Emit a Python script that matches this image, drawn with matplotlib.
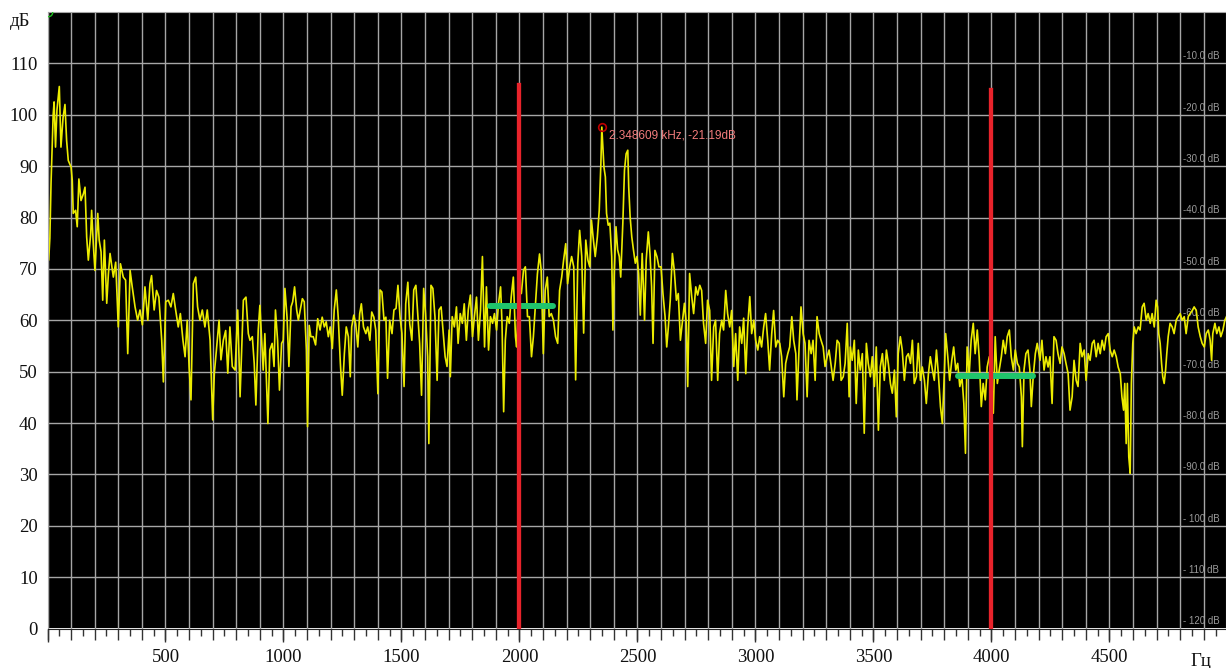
import matplotlib.pyplot as plt
from matplotlib.ticker import MultipleLocator

# spectrum (Hz, dB)
freqHz = [
    0, 5, 10, 15, 24, 28, 34, 40, 50, 57, 66, 74, 81, 88, 100, 105, 109, 119, 126, 133,
    142, 152, 159, 166, 173, 183, 187, 194, 201, 213, 219, 227, 234, 241, 251, 258, 265, 279, 289, 300,
    309, 321, 331, 340, 350, 359, 371, 382, 392, 402, 413, 425, 434, 441, 452, 462, 472, 484, 491, 501,
    512, 523, 533, 543, 554, 563, 574, 583, 592, 600, 608, 618, 628, 636, 646, 656, 667, 677, 689, 700,
    707, 717, 727, 735, 745, 755, 764, 773, 783, 795, 806, 816, 830, 841, 851,
    858, 868, 876, 883, 893, 900, 907, 914, 921, 928, 934, 942, 952, 960, 966, 975, 983, 992, 999, 1006,
    1015, 1023, 1032, 1039, 1047, 1056, 1063, 1071, 1080, 1088, 1097, 1102, 1109, 1116, 1126, 1136, 1145, 1155, 1164, 1173,
    1181, 1190, 1198, 1207, 1215, 1224, 1232, 1241, 1249, 1258, 1266, 1275, 1283, 1289, 1298, 1306, 1315, 1323, 1330, 1339,
    1349, 1357, 1366, 1374, 1383, 1391, 1400, 1409, 1417, 1426, 1434, 1441, 1450, 1460, 1468, 1477, 1485, 1494, 1502, 1511,
    1518, 1527, 1535, 1544, 1552, 1561, 1569, 1577, 1585, 1594, 1602, 1611, 1616, 1625, 1633, 1642, 1651, 1659, 1668, 1676,
    1685, 1693, 1702,
    1707, 1715, 1724, 1733, 1740, 1749, 1758, 1766, 1775, 1783, 1792, 1801, 1809, 1818, 1826, 1835, 1843, 1852, 1860, 1869,
    1877, 1886, 1894, 1903, 1911, 1920, 1926, 1933, 1940, 1948, 1957, 1965, 1974, 1983, 1988, 1997, 2008, 2017, 2025, 2034,
    2042, 2051, 2059, 2068, 2076, 2085, 2092, 2101, 2109, 2118, 2126, 2135, 2144, 2153, 2162, 2170, 2179, 2187, 2196, 2204,
    2213, 2221, 2230, 2238, 2247, 2255, 2264, 2272, 2281, 2290, 2298, 2305, 2312, 2321, 2330, 2338, 2345, 2349, 2358, 2364,
    2369, 2376, 2383, 2391, 2396, 2402, 2409, 2416, 2423, 2429, 2438, 2445, 2452, 2459, 2463, 2469, 2476, 2483, 2491, 2498,
    2505, 2512, 2520, 2530, 2537,
    2546, 2553, 2560, 2566, 2574, 2583, 2591, 2600, 2608, 2617, 2624, 2631, 2639, 2648, 2656, 2665, 2673, 2682, 2690, 2699,
    2707, 2713, 2721, 2730, 2738, 2747, 2755, 2764, 2772, 2780, 2789, 2797, 2806, 2814, 2823, 2831, 2840, 2848, 2857, 2865,
    2874, 2882, 2891, 2899, 2908, 2916, 2925, 2933, 2942, 2950, 2959, 2967, 2976, 2984, 2993, 3001, 3010, 3018, 3026, 3035,
    3043, 3052, 3060, 3069, 3077, 3086, 3094, 3103, 3111, 3120, 3128, 3137, 3145, 3154, 3162, 3171, 3176, 3185, 3193, 3202,
    3210, 3219, 3227, 3236, 3244, 3253, 3261, 3270, 3278, 3287, 3295, 3304, 3312, 3321, 3329, 3338, 3346, 3355, 3363, 3372,
    3380, 3389, 3397,
    3402, 3410, 3419, 3427, 3436, 3444, 3453, 3461, 3470, 3478, 3487, 3495, 3504, 3512, 3521, 3529, 3538, 3546, 3555, 3563,
    3572, 3580, 3589, 3597, 3605, 3614, 3622, 3631, 3640, 3648, 3657, 3665, 3673, 3682, 3690, 3699, 3707, 3716, 3724, 3733,
    3741, 3750, 3758, 3767, 3775, 3784, 3792, 3801, 3806, 3815, 3823, 3832, 3840, 3849, 3857, 3866, 3875, 3883, 3890, 3897,
    3906, 3914, 3923, 3931, 3940, 3948, 3957, 3965, 3974, 3982, 3991, 4000, 4008, 4016, 4025, 4033, 4042, 4050, 4059, 4067,
    4076, 4084, 4093, 4101, 4110, 4118, 4127, 4131, 4138, 4146, 4155, 4163, 4169, 4177, 4186, 4194,
    4206, 4214, 4223, 4231, 4240, 4248, 4257, 4265, 4274, 4282, 4291, 4299, 4308, 4316, 4325, 4333, 4342, 4350, 4359, 4367,
    4376, 4384, 4393, 4401, 4410, 4418, 4427, 4435, 4444, 4452, 4461, 4469, 4478, 4486, 4495, 4503, 4512, 4520, 4529, 4537,
    4546, 4553, 4560, 4565, 4571, 4576, 4582, 4588, 4593, 4599, 4605, 4613, 4622, 4630, 4639, 4647, 4656, 4664, 4673, 4681,
    4690, 4698, 4704, 4709, 4715, 4721, 4726, 4732, 4738, 4743, 4749, 4757, 4766, 4774, 4783, 4791, 4800, 4808, 4817, 4825,
    4834, 4842, 4851, 4859, 4868, 4876, 4885, 4893, 4902, 4910, 4919, 4927, 4933, 4938, 4947, 4955, 4964, 4972, 4981, 4989,
    4996,
]
levelDb = [
    80.0, 71.7, 76.0, 86.7, 100.0, 102.5, 93.7, 100.9, 105.5, 93.7, 99.5, 102.0, 95.0, 91.1, 89.8, 87.2, 80.8, 81.4, 78.2, 87.5,
    83.3, 84.6, 85.9, 76.2, 71.7, 76.8, 81.4, 74.9, 69.7, 80.8, 75.6, 73.3, 63.9, 75.6, 63.3, 69.0, 73.0, 68.4, 71.3, 58.7,
    71.0, 68.4, 67.8, 53.5, 69.7, 66.5, 62.6, 60.0, 62.0, 59.1, 66.5, 60.0, 67.1, 68.7, 62.0, 65.8, 64.5, 56.1, 48.0, 63.6,
    63.9, 62.6, 65.2, 62.0, 58.7, 61.3, 56.1, 52.9, 60.0, 51.0, 44.5, 67.1, 68.4, 62.6, 60.0, 62.0, 58.7, 62.0, 56.1, 40.6,
    49.7, 54.8, 60.0, 52.3, 56.1, 58.0, 49.7, 58.7, 51.0, 50.3, 62.0, 45.1, 63.9, 64.5, 57.4,
    56.1, 56.8, 51.6, 43.5, 58.1, 62.9, 56.8, 50.3, 57.4, 47.7, 39.9, 54.2, 55.5, 51.0, 62.0, 56.1, 46.4, 55.5, 56.1, 66.2,
    60.6, 51.0, 62.6, 63.6, 66.5, 62.0, 60.0, 62.0, 64.2, 63.6, 54.2, 39.3, 59.0, 56.8, 56.8, 55.2, 60.3, 58.1, 60.6, 58.7,
    59.7, 56.8, 58.7, 54.5, 62.0, 65.9, 60.6, 51.6, 45.4, 53.5, 58.7, 56.8, 49.0, 58.7, 61.0, 59.3, 54.8, 61.3, 63.2, 58.7,
    57.4, 58.7, 56.1, 61.6, 60.6, 58.1, 45.7, 65.9, 65.5, 60.0, 60.6, 48.7, 60.0, 57.4, 62.0, 62.3, 66.8, 60.6, 57.4, 47.1,
    63.2, 67.4, 59.3, 56.1, 65.9, 66.8, 61.3, 55.5, 45.4, 66.2, 61.3, 52.9, 36.0, 66.8, 66.2, 60.6, 48.3, 62.0, 62.6, 58.1,
    52.9, 51.0, 58.1,
    49.0, 60.7, 58.7, 62.6, 55.5, 61.3, 59.4, 63.2, 56.1, 62.0, 64.9, 56.8, 60.7, 64.5, 56.1, 62.0, 72.4, 54.8, 66.5, 54.2,
    60.7, 59.4, 61.3, 58.1, 63.2, 66.5, 59.4, 42.2, 56.1, 60.7, 59.4, 64.5, 68.4, 56.8, 54.8, 65.8, 65.2, 69.7, 70.4, 60.7,
    60.7, 52.9, 56.8, 63.2, 69.0, 72.9, 69.7, 53.5, 65.8, 68.4, 60.7, 61.3, 60.0, 56.8, 55.5, 65.8, 68.4, 71.7, 74.9, 67.1,
    70.4, 72.4, 70.4, 48.4, 71.1, 77.5, 72.4, 57.5, 75.6, 71.7, 70.4, 79.5, 76.2, 72.4, 76.2, 81.4, 90.5, 97.6, 89.8, 87.9,
    80.8, 78.5, 78.9, 72.4, 58.1, 69.7, 78.2, 73.7, 72.4, 68.4, 78.9, 89.2, 92.4, 93.1, 85.9, 80.1, 76.2, 73.7, 71.1, 72.4,
    69.1, 61.0, 73.0, 60.0, 71.7,
    77.2, 73.0, 66.5, 55.5, 73.6, 72.3, 70.4, 70.4, 65.2, 60.7, 54.8, 58.7, 63.9, 73.0, 69.7, 63.9, 65.2, 56.1, 59.4, 63.3,
    59.4, 47.1, 69.1, 64.6, 61.3, 66.5, 64.9, 66.8, 65.8, 59.4, 55.5, 63.9, 61.9, 48.3, 58.7, 60.0, 48.3, 57.4, 60.0, 58.1,
    65.8, 61.3, 58.7, 61.9, 51.0, 57.4, 48.3, 58.7, 55.5, 60.4, 49.6, 58.7, 64.6, 57.4, 60.0, 56.1, 54.2, 56.8, 54.8, 58.7,
    61.3, 56.1, 50.3, 57.4, 61.9, 54.8, 56.1, 55.5, 52.9, 45.1, 51.6, 53.5, 54.8, 60.7, 56.1, 53.5, 44.5, 54.8, 62.6, 57.4,
    55.5, 45.1, 56.1, 53.5, 56.1, 48.3, 60.7, 57.4, 56.1, 54.8, 51.0, 52.9, 54.2, 51.0, 48.3, 51.6, 56.1, 55.5, 48.3, 49.0,
    51.6, 59.4, 45.1,
    54.8, 52.2, 56.1, 43.8, 54.2, 50.3, 53.5, 38.0, 55.5, 51.6, 49.0, 52.9, 47.1, 54.8, 38.6, 50.9, 53.5, 48.3, 54.2, 51.6,
    47.7, 45.8, 50.3, 41.2, 53.5, 56.8, 54.2, 48.3, 52.9, 53.5, 51.6, 56.1, 47.7, 49.0, 55.5, 48.3, 50.9, 48.3, 43.8, 49.6,
    52.9, 50.3, 48.3, 54.2, 49.6, 43.2, 39.9, 50.3, 57.4, 52.9, 48.3, 52.2, 54.8, 50.3, 51.6, 47.1, 49.0, 43.8, 34.1, 54.8,
    49.6, 56.1, 59.4, 53.5, 58.1, 52.9, 43.2, 47.7, 44.5, 50.9, 52.9, 49.0, 41.9, 56.8, 47.7, 50.3, 52.9, 56.1, 53.5, 56.8,
    58.1, 52.9, 50.3, 54.2, 51.6, 50.9, 45.1, 35.4, 50.3, 53.5, 54.2, 50.3, 43.2, 49.0, 53.5, 55.5,
    52.2, 56.1, 50.3, 52.9, 50.9, 52.9, 43.8, 56.8, 56.1, 53.5, 51.6, 54.8, 53.5, 51.6, 49.6, 42.5, 45.1, 52.2, 48.3, 47.1,
    55.5, 52.9, 54.2, 48.3, 53.5, 52.2, 55.5, 56.1, 52.9, 55.5, 53.5, 56.1, 54.2, 56.8, 57.4, 54.2, 52.9, 54.2, 52.9, 50.9,
    49.6, 45.1, 42.5, 47.7, 36.0, 47.7, 33.4, 30.2, 47.7, 55.5, 58.7, 57.4, 58.7, 58.1, 62.6, 63.3, 60.0, 61.3, 59.4, 61.3,
    58.7, 63.9, 62.6, 57.4, 55.5, 51.6, 49.0, 47.7, 50.3, 53.5, 56.8, 59.4, 58.7, 57.4, 60.0, 60.7, 61.3, 60.0, 60.7, 57.4,
    60.7, 61.3, 61.9, 62.6, 61.9, 58.7, 56.8, 55.5, 54.8, 57.4, 58.1, 56.1, 52.2, 57.4, 59.4, 57.4, 58.7, 56.8, 58.1, 60.0,
    60.7,
]

cursorHz = [2000, 4000]
cursorTop = [105.7, 104.9]
bandStart = [1875, 3858]
bandEnd = [2142, 4176]
bandLevel = [62.7, 49.1]
peakHz = 2348.609
peakDb = 97.6
peakText = '2.348609 kHz, -21.19dB'

xTicks = [0, 500, 1000, 1500, 2000, 2500, 3000, 3500, 4000, 4500]
xTickLabels = ['', '500', '1000', '1500', '2000', '2500', '3000', '3500', '4000', '4500']
yTicks = [0, 10, 20, 30, 40, 50, 60, 70, 80, 90, 100, 110]
rightLabels = ['- 120 dB', '- 110 dB', '- 100 dB', '-90.0 dB', '-80.0 dB', '-70.0 dB',
               '-60.0 dB', '-50.0 dB', '-40.0 dB', '-30.0 dB', '-20.0 dB', '-10.0 dB']

serif = 'Liberation Serif'
sans = 'Liberation Sans'
W, H = 1226, 668

fig = plt.figure(figsize=(W / 100, H / 100), dpi=100)
fig.patch.set_facecolor('white')
ax = fig.add_axes([47.5 / W, 1 - 628.5 / H, 1 - 47.5 / W, (628.5 - 12) / H])
ax.set_facecolor('black')
ax.set_xlim(0, 4994)
ax.set_ylim(0, 120)

# grid every 100 Hz / 10 dB
ax.xaxis.set_major_locator(MultipleLocator(100))
ax.xaxis.set_minor_locator(MultipleLocator(50))
ax.set_xticklabels([])
ax.tick_params(axis='x', which='major', length=8, width=1, color='#333333', labelbottom=False)
ax.tick_params(axis='x', which='minor', length=5, width=1, color='#333333')
ax.set_yticks(yTicks)
ax.set_yticklabels([str(v) for v in yTicks], fontfamily=serif, fontsize=13.5, color='#111111')
ax.tick_params(axis='y', length=0, pad=7)
ax.grid(True, which='major', color='#a6a6a6', linewidth=1.0)
ax.set_axisbelow(True)
for side in ['top', 'left', 'right']:
    ax.spines[side].set_color('#a6a6a6')
ax.spines['bottom'].set_color('#222222')

# longer labelled ticks every 500 Hz
sec = ax.secondary_xaxis('bottom')
sec.set_xticks(xTicks)
sec.set_xticklabels(xTickLabels, fontfamily=serif, fontsize=13.5, color='#111111')
sec.tick_params(axis='x', length=9.5, width=1, color='#333333', pad=5)
sec.spines['bottom'].set_visible(False)

# dB scale on the right
for y, lab in zip(yTicks, rightLabels):
    ax.text(4812, y + 0.4, lab, color='#9a9a9a', fontsize=7, fontfamily=sans,
            va='bottom', ha='left', zorder=0.4)

ax.plot(freqHz, levelDb, color='#ecec00', linewidth=1.2, zorder=2)

for f, band0, band1, lvl in zip(cursorHz, bandStart, bandEnd, bandLevel):
    ax.plot([band0, band1], [lvl, lvl], color='#1fc46c', linewidth=4.3,
            solid_capstyle='round', zorder=3)
for f, top in zip(cursorHz, cursorTop):
    ax.plot([f, f], [0, top], color='#e8232b', linewidth=3.1, zorder=4)

ax.plot([peakHz], [peakDb], marker='o', markersize=5.5, markerfacecolor='none',
        markeredgecolor='#c00000', markeredgewidth=1.2, zorder=5)
ax.text(peakHz + 30, peakDb - 1.6, peakText, color='#f47c7c', fontsize=8.5,
        fontfamily=sans, va='center', ha='left', zorder=5)

ax.plot([0], [120], marker='o', markersize=6, markerfacecolor='none',
        markeredgecolor='#20c020', markeredgewidth=1.0, zorder=5)

fig.text(20 / W, 1 - 22 / H, 'дБ', fontfamily=serif, fontsize=13.5, color='#111111',
         ha='center', va='center')
fig.text(1201 / W, 1 - 666 / H, 'Гц', fontfamily=serif, fontsize=13.5, color='#111111',
         ha='center', va='baseline')

fig.savefig('out.png', dpi=100, facecolor='white')
